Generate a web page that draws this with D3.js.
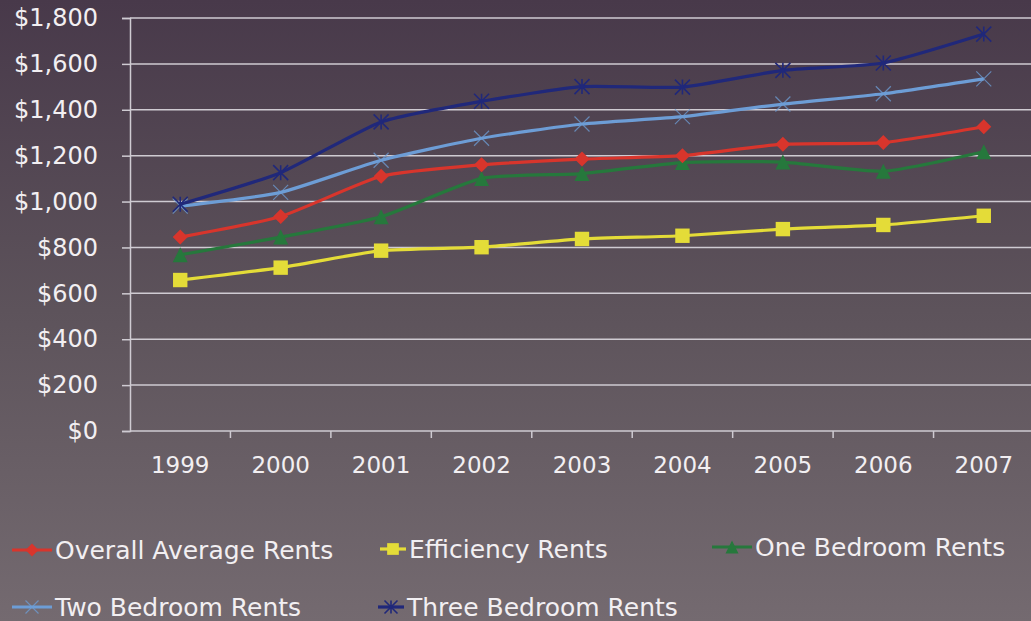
<!DOCTYPE html>
<html><head><meta charset="utf-8">
<script src="https://cdn.jsdelivr.net/npm/d3@7"></script>
<style>html,body{margin:0;padding:0;background:#5e5258;}svg{display:block;}</style>
</head><body>
<svg id="chart" width="1031" height="621"></svg>
<script>
const years = ["1999","2000","2001","2002","2003","2004","2005","2006","2007"];
const overallAverage = [845, 935, 1110, 1160, 1185, 1200, 1250, 1257, 1326];
const efficiency     = [658, 712, 786, 801, 837, 851, 880, 898, 938];
const oneBedroom     = [768, 845, 934, 1101, 1122, 1170, 1172, 1132, 1217];
const twoBedroom     = [980, 1040, 1180, 1276, 1338, 1370, 1425, 1470, 1535];
const threeBedroom   = [988, 1126, 1347, 1437, 1501, 1499, 1572, 1604, 1730];
const yTicks = [0, 200, 400, 600, 800, 1000, 1200, 1400, 1600, 1800];
const seriesNames = ["Overall Average Rents","Efficiency Rents","One Bedroom Rents","Two Bedroom Rents","Three Bedroom Rents"];

const series = [
  {name: seriesNames[0], values: overallAverage, color: "#d8352c", marker: "diamond"},
  {name: seriesNames[1], values: efficiency,     color: "#e4dc38", marker: "square"},
  {name: seriesNames[2], values: oneBedroom,     color: "#26783c", marker: "triangle"},
  {name: seriesNames[3], values: twoBedroom,     color: "#6d9dd6", marker: "x"},
  {name: seriesNames[4], values: threeBedroom,   color: "#20287a", marker: "star"}
];

const svg = d3.select("#chart");
const W = 1031, H = 621;
const defs = svg.append("defs");
const grad = defs.append("linearGradient").attr("id","bg").attr("x1",0).attr("y1",0).attr("x2",0).attr("y2",1);
grad.append("stop").attr("offset","0%").attr("stop-color","#48394a");
grad.append("stop").attr("offset","50%").attr("stop-color","#5d535b");
grad.append("stop").attr("offset","100%").attr("stop-color","#746a70");
svg.append("rect").attr("width",W).attr("height",H).attr("fill","url(#bg)");

const pL = 130, pR = 1034, pT = 18, pB = 431;
const x = d3.scaleBand().domain(years).range([pL, pR]);
const y = d3.scaleLinear().domain([0, 1800]).range([pB, pT]);
const font = "'DejaVu Sans', Verdana, sans-serif";
const textColor = "#f2eff2";
const gridColor = "#cfcbd2";

// gridlines + y axis
const yAxis = d3.axisLeft(y).tickValues(yTicks).tickSize(8).tickPadding(24)
  .tickFormat(d => "$" + d3.format(",")(d));
const gy = svg.append("g").attr("transform",`translate(${pL},0)`).call(yAxis);
gy.select(".domain").attr("stroke", gridColor).attr("stroke-width",1.5);
gy.selectAll(".tick line").attr("stroke", gridColor).attr("stroke-width",1.5);
gy.selectAll(".tick text").attr("fill", textColor).style("font-family", font).style("font-size","24px");
svg.append("g").selectAll("line").data(yTicks.filter(d => d > 0)).join("line")
  .attr("x1", pL).attr("x2", W).attr("y1", d => y(d)).attr("y2", d => y(d))
  .attr("stroke", gridColor).attr("stroke-width", 1.5);

// x axis
const xTickScale = d3.scalePoint().domain(d3.range(years.length + 1)).range([pL, pR]);
const gx = svg.append("g").attr("transform",`translate(0,${pB})`);
gx.append("line").attr("x1", pL).attr("x2", W).attr("stroke", gridColor).attr("stroke-width",1.5);
gx.selectAll("line.tk").data(d3.range(1, years.length)).join("line").attr("class","tk")
  .attr("x1", d => xTickScale(d)).attr("x2", d => xTickScale(d)).attr("y1",0).attr("y2",7)
  .attr("stroke", gridColor).attr("stroke-width",1.5);
const xAxis = d3.axisBottom(x).tickSize(0).tickPadding(26);
const gx2 = svg.append("g").attr("transform",`translate(0,${pB})`).call(xAxis);
gx2.select(".domain").remove();
gx2.selectAll(".tick text").attr("fill", textColor).style("font-family", font).style("font-size","23px");

// markers
function drawMarker(g, type, color, size) {
  const s = size;
  if (type === "diamond") {
    g.append("path").attr("d", `M0,${-s/2}L${s/2},0L0,${s/2}L${-s/2},0Z`).attr("fill", color);
  } else if (type === "square") {
    g.append("rect").attr("x",-s*0.45).attr("y",-s*0.45).attr("width",s*0.9).attr("height",s*0.9).attr("fill", color);
  } else if (type === "triangle") {
    g.append("path").attr("d", `M0,${-s/2}L${s/2},${s/2}L${-s/2},${s/2}Z`).attr("fill", color);
  } else if (type === "x") {
    g.append("path").attr("d", `M${-s/2},${-s/2}L${s/2},${s/2}M${-s/2},${s/2}L${s/2},${-s/2}`)
      .attr("stroke", color).attr("stroke-width",1.2).attr("stroke-opacity",0.75).attr("fill","none");
  } else if (type === "star") {
    g.append("path").attr("d", `M${-s/2},${-s/2}L${s/2},${s/2}M${-s/2},${s/2}L${s/2},${-s/2}M0,${-s/2}L0,${s/2}`)
      .attr("stroke", color).attr("stroke-width",1.6).attr("fill","none");
  }
}

const line = d3.line().x((d,i) => x(years[i]) + x.bandwidth()/2).y(d => y(d))
  .curve(d3.curveCardinal.tension(0.45));

const order = [2, 1, 0, 3, 4];
order.forEach(k => {
  const s = series[k];
  const g = svg.append("g");
  g.append("path").datum(s.values).attr("d", line).attr("fill","none")
    .attr("stroke", s.color).attr("stroke-width", 3.2).attr("stroke-linejoin","round");
  s.values.forEach((v,i) => {
    const mg = g.append("g").attr("transform", `translate(${x(years[i]) + x.bandwidth()/2},${y(v)})`);
    drawMarker(mg, s.marker, s.color, s.marker === "square" ? 16 : 15);
  });
});

// legend
const legendPos = [
  {lx: 12, ly: 550}, {lx: 380, ly: 549}, {lx: 712, ly: 547},
  {lx: 12, ly: 607}, {lx: 378, ly: 607}
];
series.forEach((s, k) => {
  const p = legendPos[k];
  const g = svg.append("g").attr("transform", `translate(${p.lx},${p.ly})`);
  const lw = (k === 1 || k === 4) ? 26 : 40;
  g.append("line").attr("x1",0).attr("x2",lw).attr("stroke", s.color).attr("stroke-width",3.2);
  const mg = g.append("g").attr("transform", `translate(${lw/2},0)`);
  drawMarker(mg, s.marker, s.color, 13);
  g.append("text").attr("x", lw + 3).attr("y", 0).attr("dy","0.36em")
    .attr("fill", textColor).style("font-family", font).style("font-size","25px").text(s.name);
});
</script>
</body></html>
